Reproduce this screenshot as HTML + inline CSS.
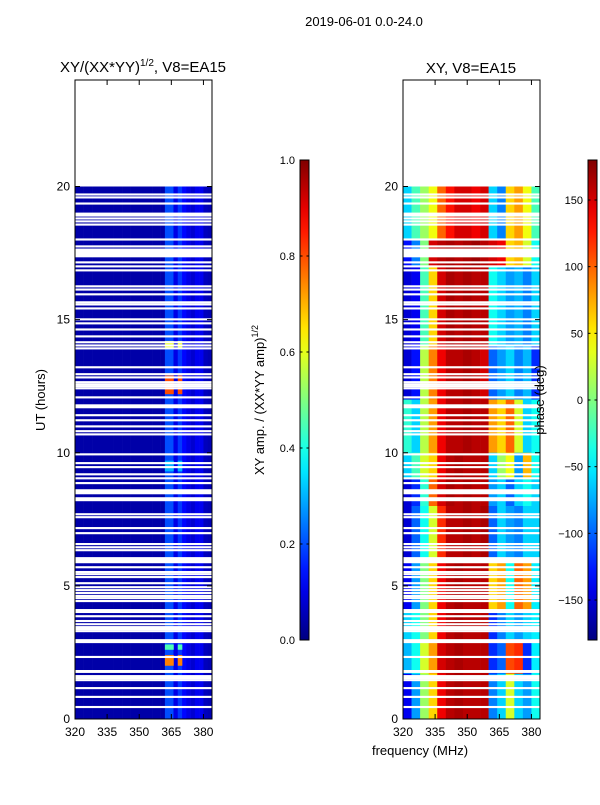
<!DOCTYPE html>
<html><head><meta charset="utf-8"><style>
body{margin:0;background:#fff;}
svg text{font-family:"Liberation Sans",sans-serif;fill:#000;}
</style></head><body>
<svg id="fig" width="600" height="800" viewBox="0 0 600 800" xmlns="http://www.w3.org/2000/svg">
<text x="364" y="26" font-size="13" text-anchor="middle">2019-06-01 0.0-24.0</text>
<text x="143" y="72" font-size="15" text-anchor="middle">XY/(XX*YY)<tspan font-size="10" dy="-6">1/2</tspan><tspan dy="6">, V8=EA15</tspan></text>
<text x="471" y="73" font-size="15" text-anchor="middle">XY, V8=EA15</text>
<g id="left"></g>
<g id="right"></g>
<g id="axes"></g>
<text transform="translate(45,400) rotate(-90)" font-size="13" text-anchor="middle">UT (hours)</text>
<text x="420" y="755" font-size="13" text-anchor="middle">frequency (MHz)</text>
<text transform="translate(264,400) rotate(-90)" font-size="13" text-anchor="middle">XY amp. / (XX*YY amp)<tspan font-size="9" dy="-6">1/2</tspan></text>
<text transform="translate(544,400) rotate(-90)" font-size="13" text-anchor="middle">phase (deg)</text>
</svg>
<script>
const freqTicks=[320,335,350,365,380];
const hourTicks=[0,5,10,15,20];
const ampTicks=[0.0,0.2,0.4,0.6,0.8,1.0];
const phaseTicks=[-150,-100,-50,0,50,100,150];
const chanAmp=[0.04,0.04,0.04,0.04,0.04,0.04,0.04,0.04,0.04,0.04,0.04,0.04,0.04,0.04,0.04,0.04,0.04,0.04,0.04,0.04,0.04,0.2,0.2,0.1,0.18,0.13,0.1,0.08,0.11,0.11,0.06,0.05];
const ampEvents=[[12.2,12.9,0.8],[2.0,2.4,0.75],[13.95,14.2,0.6],[2.6,2.8,0.45],[9.3,9.7,0.3]];
const bandEdges=[20,18,17,14,12,10,9,8,6,4,3,1.7,0];
const phaseRows=[
[-60,-20,10,40,100,130,150,150,140,150,-60,-90,60,80,40,-20],
[-130,-90,0,150,160,165,160,165,170,160,150,140,60,70,30,-40],
[-150,-140,-20,60,150,165,160,165,160,160,-40,-60,-80,-70,-90,-60],
[-150,-130,20,90,140,160,160,165,160,150,-100,-80,-60,-90,-70,-120],
[-30,-60,20,80,140,160,160,165,160,160,80,60,100,30,-60,-40],
[-60,-20,30,60,140,160,165,160,160,160,-60,10,40,-80,70,-40],
[-150,-120,-30,100,150,165,160,165,160,160,-80,-60,-100,-60,-40,-60],
[-150,-100,-40,30,120,160,160,165,160,165,-100,-60,-80,-90,-60,-60],
[-140,-80,0,60,140,160,165,160,160,160,60,80,-40,100,80,-50],
[-60,-40,0,60,140,160,165,160,160,160,-120,-90,-60,-80,-60,-50],
[-70,-40,30,80,150,160,165,160,160,160,-120,-100,110,120,-120,-50],
[-140,-80,10,60,140,160,165,160,160,160,-90,-60,30,-60,-80,-40]];
const gaps=[[20,20.3],[19.66,19.74],[19.55,19.63],[19.32,19.4],[18.87,19.02],[18.76,18.84],[18.65,18.73],[18.53,18.61],[17.97,18.05],[17.71,17.79],[17.34,17.67],[17.11,17.19],[16.96,17.04],[16.81,16.89],[16.21,16.29],[16.09,16.17],[15.91,15.99],[15.61,15.69],[15.53,15.61],[15.38,15.46],[14.97,15.05],[14.82,14.9],[14.59,14.67],[14.33,14.41],[14.11,14.19],[13.99,14.07],[13.88,13.96],[13.17,13.25],[12.91,12.99],[12.79,12.87],[12.61,12.69],[12.53,12.61],[12.46,12.54],[12.38,12.46],[12.04,12.12],[11.67,11.82],[11.37,11.45],[11.18,11.26],[10.95,11.03],[10.77,10.85],[10.65,10.73],
[9.9,9.98],[9.57,9.65],[9.42,9.5],[9.15,9.23],[9.0,9.08],[8.82,8.9],[8.44,8.63],[8.18,8.33],[7.65,7.73],[7.54,7.62],[7.13,7.21],[6.94,7.02],[6.53,6.61],[6.41,6.49],[6.3,6.38],[5.85,6.08],[5.66,5.74],[5.48,5.56],[5.4,5.48],[5.29,5.37],[5.06,5.14],[4.91,4.99],[4.8,4.88],[4.69,4.77],[4.58,4.66],[4.5,4.58],[4.39,4.47],[3.98,4.13],[3.82,3.9],[3.64,3.72],[3.52,3.6],[3.41,3.49],[3.34,3.42],[3.26,3.34],[2.85,3.0],[2.29,2.37],[1.73,1.84],[1.57,1.65],[1.5,1.58],[1.42,1.5],[1.12,1.2],[0.79,0.87],[0.41,0.49]];

const NS='http://www.w3.org/2000/svg';
function jet(v){v=Math.max(0,Math.min(1,v));const c=t=>Math.round(255*Math.max(0,Math.min(1,1.5-Math.abs(4*v-t))));return `rgb(${c(3)},${c(2)},${c(1)})`;}
function el(tag,attrs,parent){const e=document.createElementNS(NS,tag);for(const k in attrs)e.setAttribute(k,attrs[k]);parent.appendChild(e);return e;}
const Y0=719,Y1=80;
function yS(h){return Y0-(h/24)*(Y0-Y1);}
function xS(ox,f){return ox+(f-320)/64*137;}
const LX=75,RX=403,W=137;

const gl=document.getElementById('left');
const bw=64/chanAmp.length;
chanAmp.forEach((a,i)=>{
  const r=el('rect',{x:xS(LX,320+i*bw),y:yS(20),width:W/chanAmp.length+0.3,height:yS(0)-yS(20),fill:jet(a)},gl);
  
  
});
ampEvents.forEach(ev=>{
  chanAmp.forEach((a,i)=>{
    if(a<0.15)return;
    const r=el('rect',{x:xS(LX,320+i*bw),y:yS(ev[1]),width:W/chanAmp.length+0.3,height:yS(ev[0])-yS(ev[1]),fill:jet(ev[2])},gl);
    
    
  });
});
const gr=document.getElementById('right');
const pw=64/phaseRows[0].length;
phaseRows.forEach((row,b)=>{
  row.forEach((p,i)=>{
    const r=el('rect',{x:xS(RX,320+i*pw),y:yS(bandEdges[b]),width:W/row.length+0.3,height:yS(bandEdges[b+1])-yS(bandEdges[b])+0.3,fill:jet((p+180)/360)},gr);
    
    
  });
});
[[LX,gl],[RX,gr]].forEach(([ox,g])=>{
  gaps.forEach(gp=>{
    const r=el('rect',{x:ox,y:yS(gp[1]),width:W,height:yS(gp[0])-yS(gp[1]),fill:'#fff'},g);
    
    
  });
});
const ga=document.getElementById('axes');
[LX,RX].forEach(ox=>{
  const f=el('rect',{x:ox,y:Y1,width:W,height:Y0-Y1,fill:'none',stroke:'#000','stroke-width':1},ga);
  
  
  freqTicks.forEach(t=>{
    const x=xS(ox,t);
    el('line',{x1:x,x2:x,y1:Y0,y2:Y0-5,stroke:'#000'},ga);
    el('line',{x1:x,x2:x,y1:Y1,y2:Y1+5,stroke:'#000'},ga);
    const tx=el('text',{x:x,y:Y0+17,'font-size':12,'text-anchor':'middle'},ga);
    tx.textContent=t;
    
    
  });
  hourTicks.forEach(t=>{
    const y=yS(t);
    el('line',{x1:ox,x2:ox+5,y1:y,y2:y,stroke:'#000'},ga);
    el('line',{x1:ox+W,x2:ox+W-5,y1:y,y2:y,stroke:'#000'},ga);
    const tx=el('text',{x:ox-5,y:y+4,'font-size':12,'text-anchor':'end'},ga);
    tx.textContent=t;
    
    
  });
});
function colorbar(x,id,ticks,vmin,vmax,fmt,leftLabels){
  const defs=el('defs',{},ga);
  const lg=el('linearGradient',{id:id,x1:0,y1:1,x2:0,y2:0},defs);
  for(let i=0;i<=20;i++)el('stop',{offset:i/20,'stop-color':jet(i/20)},lg);
  const cb=el('rect',{x:x,y:160,width:9,height:480,fill:`url(#${id})`,stroke:'#000','stroke-width':1},ga);
  
  
  ticks.forEach(t=>{
    const y=640-(t-vmin)/(vmax-vmin)*480;
    el('line',{x1:x,x2:x+2.5,y1:y,y2:y,stroke:'#000'},ga);
    el('line',{x1:x+9,x2:x+6.5,y1:y,y2:y,stroke:'#000'},ga);
    const tx=el('text',leftLabels?{x:x-5,y:y+4,'font-size':11,'text-anchor':'end'}:{x:x-5,y:y+4,'font-size':11,'text-anchor':'end'},ga);
    tx.textContent=fmt(t);
    
    
  });
}
colorbar(300,'gAmp',ampTicks,0,1,t=>t.toFixed(1),true);
colorbar(588,'gPh',phaseTicks,-180,180,t=>t<0?'\u2212'+(-t):''+t,true);
</script>
</body></html>
